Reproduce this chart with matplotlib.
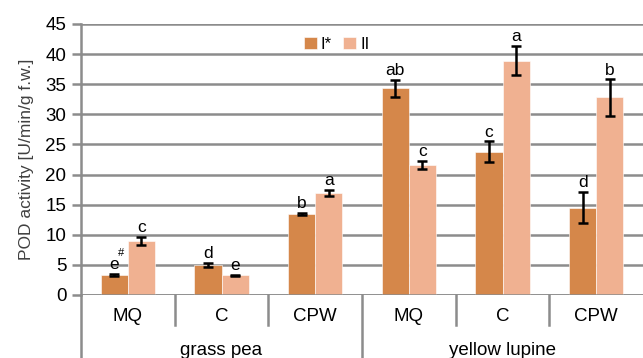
import numpy as np
import matplotlib.pyplot as plt

plt.rcParams['font.family'] = ['Liberation Sans', 'DejaVu Sans']

# data
groups = ["grass pea", "yellow lupine"]
treatments = ["MQ", "C", "CPW", "MQ", "C", "CPW"]
series_names = ["I*", "II"]
vals_I = [3.3, 5.0, 13.4, 34.3, 23.8, 14.5]
err_I = [0.2, 0.3, 0.2, 1.4, 1.7, 2.6]
vals_II = [9.0, 3.3, 17.0, 21.6, 38.9, 32.8]
err_II = [0.7, 0.1, 0.5, 0.7, 2.4, 3.0]
letters_I = ["e", "d", "b", "ab", "c", "d"]
letters_II = ["c", "e", "a", "c", "a", "b"]

col_I = "#D5874A"
col_II = "#F0B191"
grid_col = "#8C8C8C"

fig = plt.figure(figsize=(6.43, 3.58), dpi=100)
ax = fig.add_axes([0.126, 0.176, 0.874, 0.757])

x = np.arange(len(treatments))
w = 0.29

ax.bar(x - w/2, vals_I, w, color=col_I, edgecolor="white", linewidth=0.4,
       label=series_names[0], zorder=3)
ax.bar(x + w/2, vals_II, w, color=col_II, edgecolor="white", linewidth=0.4,
       label=series_names[1], zorder=3)
ax.errorbar(x - w/2, vals_I, yerr=err_I, fmt="none", ecolor="black",
            elinewidth=1.8, capsize=3.8, capthick=1.8, zorder=4)
ax.errorbar(x + w/2, vals_II, yerr=err_II, fmt="none", ecolor="black",
            elinewidth=1.8, capsize=3.8, capthick=1.8, zorder=4)

for i in range(len(x)):
    ax.text(x[i] - w/2, vals_I[i] + err_I[i] + 0.3, letters_I[i],
            ha="center", va="bottom", fontsize=12.5)
    ax.text(x[i] + w/2, vals_II[i] + err_II[i] + 0.3, letters_II[i],
            ha="center", va="bottom", fontsize=12.5)
# superscript mark next to the first letter
ax.text(x[0] - w/2 + 0.075, vals_I[0] + err_I[0] + 2.6, "#",
        ha="center", va="bottom", fontsize=8)

ax.set_xlim(-0.5, len(x) - 0.5)
ax.set_ylim(0, 45)
ax.set_yticks(np.arange(0, 46, 5))
ax.yaxis.grid(True, color=grid_col, linewidth=1.8, zorder=0)
ax.set_axisbelow(True)
for s in ["top", "right", "bottom"]:
    ax.spines[s].set_visible(False)
ax.spines["left"].set_color(grid_col)
ax.spines["left"].set_linewidth(1.8)
ax.tick_params(axis="y", length=6.5, width=1.8, color=grid_col, labelsize=13.5, pad=4)
ax.tick_params(axis="x", length=0, labelbottom=False)
ax.axhline(0, color=grid_col, linewidth=1.8, zorder=5)
ax.set_ylabel("POD activity [U/min/g f.w.]", fontsize=12.5, color="#404040", labelpad=8)

# two-level category axis
tr = ax.get_xaxis_transform()
for i, t in enumerate(treatments):
    ax.text(x[i], -0.081, t, transform=tr, ha="center", va="center", fontsize=13.5)
for b in [0.5, 1.5, 3.5, 4.5]:
    ax.plot([b, b], [0, -0.111], transform=tr, color=grid_col, lw=1.8, clip_on=False)
ax.plot([-0.5, -0.5], [0, -0.25], transform=tr, color=grid_col, lw=1.8, clip_on=False)
ax.plot([2.5, 2.5], [0, -0.25], transform=tr, color=grid_col, lw=1.8, clip_on=False)
ax.text(1, -0.203, groups[0], transform=tr, ha="center", va="center", fontsize=13.5)
ax.text(4, -0.203, groups[1], transform=tr, ha="center", va="center", fontsize=13.5)

leg = ax.legend(loc="upper center", bbox_to_anchor=(0.455, 0.995), ncol=2, frameon=False,
                fontsize=12, handlelength=0.75, handleheight=0.75, handletextpad=0.25,
                columnspacing=0.7, borderaxespad=0.3)

fig.savefig("out.png", dpi=100)
